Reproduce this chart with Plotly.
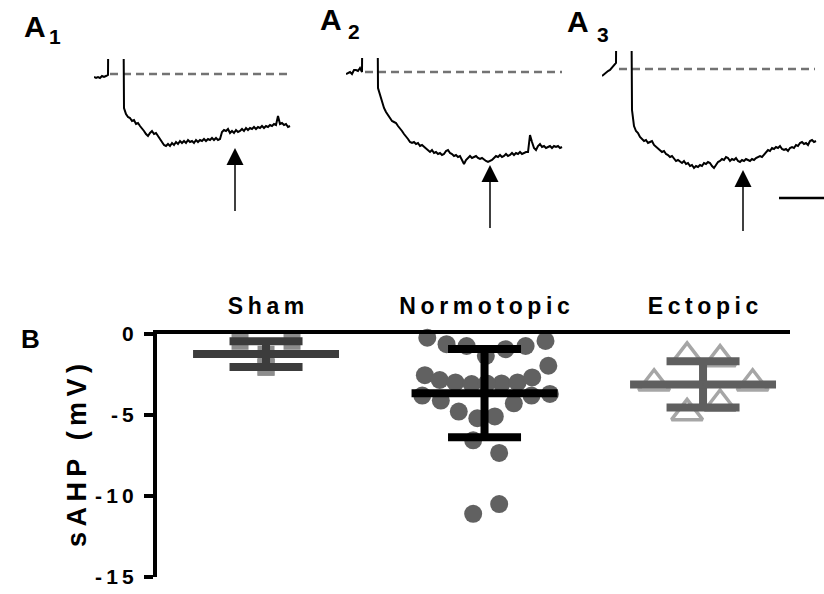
import numpy as np
import plotly.graph_objects as go

W, H = 824, 594
FONT = "Liberation Sans, Arial, sans-serif"
THIN = "\u2009"


def spaced(s):
    return THIN.join(list(s))


# ---------------- Panel B data (sAHP, mV) ----------------
categories = ["Sham", "Normotopic", "Ectopic"]
sham_vals = [-0.45, -0.45, -1.25, -2.05, -2.05]
normo_vals = [-0.23, -0.63, -0.74, -1.35, -0.94, -0.74, -0.43, -1.96,
              -2.54, -2.84, -2.99, -3.09, -3.05, -2.99, -2.68, -3.80,
              -4.11, -3.80, -3.70, -4.28, -4.79, -5.20, -5.09, -6.56,
              -7.34, -10.5, -11.1, -3.05]
ecto_vals = [-1.38, -1.55, -3.04, -3.04, -4.29, -4.87]
group_means = [-1.24, -3.65, -3.11]
group_sd = [0.80, 2.73, 1.43]

# horizontal scatter offsets of the dots inside each column (category units)
sham_off = [-0.119, 0.119, 0.0, 0.0, 0.0]
normo_off = [-0.262, -0.174, -0.082, 0.006, 0.096, 0.188, 0.279, 0.292,
             -0.273, -0.205, -0.133, -0.059, 0.078, 0.151, 0.218, -0.285,
             -0.200, 0.215, 0.299, 0.134, -0.118, -0.033, 0.047, -0.052,
             0.067, 0.067, -0.052, 0.010]
ecto_off = [-0.073, 0.078, -0.224, 0.227, 0.078, -0.073]

y_ticks = [0, -5, -10, -15]

# ---------------- Panel A traces (mV, sampled every 20 ms) ----------------
dt_ms = 20
a1_mv = [-0.3, -0.4, -0.3, -0.4, -0.2, -0.3, -0.2, -0.1,
         30, 30, 30, 30, 30, 30, 30,
         -3.4, -4.0, -4.3, -4.4, -4.7, -4.6, -5.0, -4.9, -5.2, -5.4,
         -5.7, -6.0, -6.2, -5.9, -5.7, -6.0, -5.9, -6.2, -6.5, -6.8,
         -7.1, -7.2, -7.0, -7.2, -6.9, -7.1, -6.8, -7.0, -6.7, -6.9,
         -6.7, -6.9, -6.6, -6.8, -6.7, -6.9, -6.6, -6.8, -6.6, -6.7,
         -6.5, -6.7, -6.5, -6.6, -6.4, -6.6, -6.4, -6.6, -6.5,
         -5.8, -5.6, -5.7, -5.5, -5.9, -5.7, -5.9, -5.6, -5.8, -5.7,
         -5.5, -5.7, -5.4, -5.6, -5.4, -5.5, -5.3, -5.5, -5.3, -5.4,
         -5.2, -5.4, -5.2, -5.3, -5.1, -5.2, -5.0, -5.1,
         -4.2, -5.0, -4.9, -5.1, -5.0, -5.3, -5.2]
a2_mv = [-0.2, -0.1, 0.0, -0.2, 0.2, 0.2, 0.1, 0.4, 0.0,
         30, 30, 30, 30, 30, 30, 30,
         -1.6, -2.3, -2.9, -3.6, -4.0, -4.3, -4.6, -4.9, -5.0, -5.1,
         -5.4, -5.6, -5.9, -6.2, -6.4, -6.7, -7.0, -7.1, -7.0, -7.2,
         -7.1, -7.4, -7.3, -7.5, -7.7, -7.9, -8.0, -7.8, -8.1, -8.0,
         -8.2, -8.1, -8.3, -8.2, -7.9, -7.8, -8.1, -8.2, -8.4, -8.3,
         -8.5, -8.4, -8.8, -9.2, -8.8, -8.6, -8.4, -8.6, -8.5, -8.4,
         -8.6, -8.7, -8.6, -8.8, -8.9, -9.0, -8.9, -8.8, -8.6, -8.4,
         -8.5, -8.3, -8.5, -8.4, -8.2, -8.4, -8.3, -8.1, -8.3, -8.1,
         -8.2, -8.0, -8.2, -8.1, -8.0, -8.0, -6.3, -7.0, -7.6, -7.8,
         -7.4, -7.2, -7.5, -7.4, -7.6, -7.5, -7.4, -7.6, -7.4, -7.5,
         -7.4, -7.6, -7.5]
a3_mv = [-0.7, -0.5, -0.4, -0.2, -0.1, 0.1, 0.3, 0.6,
         30, 30, 30, 30, 30, 30, 30,
         -4.1, -5.7, -6.2, -6.4, -6.8, -7.0, -7.2, -7.1, -7.4, -7.3,
         -7.2, -7.6, -7.8, -8.0, -8.1, -8.3, -8.2, -8.5, -8.6, -8.8,
         -8.7, -9.0, -9.2, -9.1, -9.3, -9.4, -9.2, -9.5, -9.4, -9.7,
         -9.6, -9.9, -9.7, -9.8, -9.6, -9.7, -9.4, -9.5, -9.3, -9.4,
         -9.7, -9.9, -9.6, -9.3, -9.2, -9.0, -9.1, -8.8, -8.9, -9.2,
         -9.0, -9.1, -8.9, -9.2, -9.3, -9.1, -9.2, -9.0, -9.1, -9.2,
         -9.0, -9.1, -8.9, -8.8, -8.7, -8.8, -8.6, -8.3, -8.1, -8.2,
         -7.9, -8.0, -7.8, -7.9, -7.7, -8.0, -8.1, -8.0, -8.2, -7.9,
         -7.8, -7.9, -7.6, -7.7, -7.4, -7.3, -7.5, -7.4, -7.6, -7.2,
         -7.1, -7.3, -7.2]
trace_labels = ["1", "2", "3"]
baseline_t0 = [160, 190, 170]        # ms, start of dashed resting level
baseline_t1 = [1960, 2160, 2130]     # ms, end of dashed resting level
arrow_t = [1410, 1440, 1410]         # ms, time where sAHP is measured
arrow_tip = [-7.4, -9.3, -10.1]      # mV
arrow_tail = [-13.7, -15.6, -16.2]   # mV
scale_t = [1770, 2220]               # ms, time scale bar
scale_v = -12.9                      # mV


# ---------------- layout helpers (pixel -> paper) ----------------
def pxx(p):
    return p / W


def pxy(p):
    return 1 - p / H


fig = go.Figure()

hidden_axis = dict(showline=False, showgrid=False, zeroline=False,
                   showticklabels=False, ticks="", automargin=False,
                   fixedrange=True)

# ---------------- Panel A ----------------
panelA = [
    # (trace, x px domain, y px domain, v range)
    (a1_mv, (94, 300), (59, 240), (-16.6, 1.5)),
    (a2_mv, (346, 566), (58, 240), (-16.8, 1.4)),
    (a3_mv, (602, 824), (51, 240), (-17.1, 1.8)),
]
layout_axes = {}
for i, (vals, xd, yd, vr) in enumerate(panelA):
    k = i + 2
    xa, ya = f"x{k}", f"y{k}"
    t = np.arange(len(vals)) * dt_ms
    # dashed resting level
    fig.add_trace(go.Scatter(x=[baseline_t0[i], baseline_t1[i]], y=[0, 0],
                             mode="lines", xaxis=xa, yaxis=ya,
                             line=dict(color="#737373", width=2.6, dash="8px,5px"),
                             showlegend=False, hoverinfo="skip"))
    fig.add_trace(go.Scatter(x=t, y=vals, mode="lines", xaxis=xa, yaxis=ya,
                             line=dict(color="black", width=2.0),
                             showlegend=False, hoverinfo="skip"))
    # arrow: shaft + head
    fig.add_trace(go.Scatter(x=[arrow_t[i], arrow_t[i]],
                             y=[arrow_tail[i], arrow_tip[i] - 1.2],
                             mode="lines", xaxis=xa, yaxis=ya, cliponaxis=False,
                             line=dict(color="black", width=1.5),
                             showlegend=False, hoverinfo="skip"))
    fig.add_trace(go.Scatter(x=[arrow_t[i]], y=[arrow_tip[i]], mode="markers",
                             xaxis=xa, yaxis=ya, cliponaxis=False,
                             marker=dict(symbol="arrow-up", size=17, color="black",
                                         line=dict(width=0)),
                             showlegend=False, hoverinfo="skip"))
    layout_axes[f"xaxis{k}"] = dict(domain=[pxx(xd[0]), pxx(xd[1])],
                                    range=[0, (xd[1] - xd[0]) * 10],
                                    anchor=ya, **hidden_axis)
    layout_axes[f"yaxis{k}"] = dict(domain=[pxy(yd[1]), pxy(yd[0])],
                                    range=list(vr), anchor=xa, **hidden_axis)

# time scale bar (panel A3)
fig.add_trace(go.Scatter(x=scale_t, y=[scale_v, scale_v], mode="lines",
                         xaxis="x4", yaxis="y4", cliponaxis=False,
                         line=dict(color="black", width=2.5),
                         showlegend=False, hoverinfo="skip"))

annotations = []
# panel letters "A" with their index digits set as subscripts beside them
letter_pos = [(21.7, 7.6), (318, 1), (565, 3.3)]
digit_pos = [(46.7, 22.7), (346.4, 17.7), (594.5, 21)]
for i in range(3):
    annotations.append(dict(
        x=pxx(letter_pos[i][0]), y=pxy(letter_pos[i][1]), xref="paper", yref="paper",
        xanchor="left", yanchor="top", showarrow=False, text="A",
        font=dict(family=FONT, size=30, color="black", weight="bold")))
    annotations.append(dict(
        x=pxx(digit_pos[i][0]), y=pxy(digit_pos[i][1]), xref="paper", yref="paper",
        xanchor="left", yanchor="top", showarrow=False, text=trace_labels[i],
        font=dict(family=FONT, size=21, color="black", weight="bold")))
annotations.append(dict(
    x=pxx(19), y=pxy(322), xref="paper", yref="paper",
    xanchor="left", yanchor="top", showarrow=False, text="B",
    font=dict(family=FONT, size=26, color="black", weight="bold")))

# ---------------- Panel B ----------------
fig.add_trace(go.Scatter(x=[0 + o for o in sham_off], y=sham_vals, mode="markers",
                         marker=dict(symbol="square", size=17, color="#8c8c8c",
                                     line=dict(width=0)),
                         cliponaxis=False, showlegend=False, hoverinfo="skip"))
fig.add_trace(go.Scatter(x=[1 + o for o in normo_off], y=normo_vals, mode="markers",
                         marker=dict(symbol="circle", size=18, color="#616161",
                                     line=dict(width=0)),
                         cliponaxis=False, showlegend=False, hoverinfo="skip"))
fig.add_trace(go.Scatter(x=[2 + o for o in ecto_off], y=ecto_vals, mode="markers",
                         marker=dict(symbol="triangle-up-open", size=27, color="#a6a6a6",
                                     line=dict(width=3.5, color="#a6a6a6")),
                         cliponaxis=False, showlegend=False, hoverinfo="skip"))

bar_colors = ["#3c3c3c", "#000000", "#5f5f5f"]
for i in range(3):
    fig.add_trace(go.Scatter(
        x=[i], y=[group_means[i]], mode="markers",
        marker=dict(size=2, color=bar_colors[i]),
        error_x=dict(type="constant", value=0.334, width=0, thickness=8,
                     color=bar_colors[i]),
        error_y=dict(type="constant", value=group_sd[i], width=36.5, thickness=8,
                     color=bar_colors[i]),
        cliponaxis=False, showlegend=False, hoverinfo="skip"))

fig.update_layout(
    width=W, height=H, autosize=False,
    margin=dict(l=0, r=0, t=0, b=0, pad=0, autoexpand=False),
    paper_bgcolor="white", plot_bgcolor="white",
    font=dict(family=FONT, color="black"),
    xaxis=dict(domain=[pxx(157), pxx(790)], range=[-0.499, 2.398],
               side="top", showline=True, linewidth=4, linecolor="black",
               tickvals=[0, 1, 2], ticktext=[spaced(c) for c in categories],
               ticks="", ticklabelstandoff=7, showgrid=False, zeroline=False,
               tickfont=dict(family=FONT, size=23, color="black", weight="bold"),
               layer="above traces", anchor="y", automargin=False),
    yaxis=dict(domain=[pxy(577), pxy(334)], range=[-15, 0],
               showline=True, linewidth=4, linecolor="black",
               ticks="outside", ticklen=9, tickwidth=4, tickcolor="black",
               tickvals=y_ticks, ticktext=[spaced(str(v)) for v in y_ticks],
               ticklabelstandoff=6, showgrid=False, zeroline=False,
               tickfont=dict(family=FONT, size=21, color="black", weight="bold"),
               title=dict(text=spaced("sAHP (mV)"), standoff=2,
                          font=dict(family=FONT, size=27, color="black", weight="bold")),
               layer="above traces", anchor="x", automargin=False),
    annotations=annotations,
    **layout_axes,
)

fig.write_html("out.html", config={"displayModeBar": False})
